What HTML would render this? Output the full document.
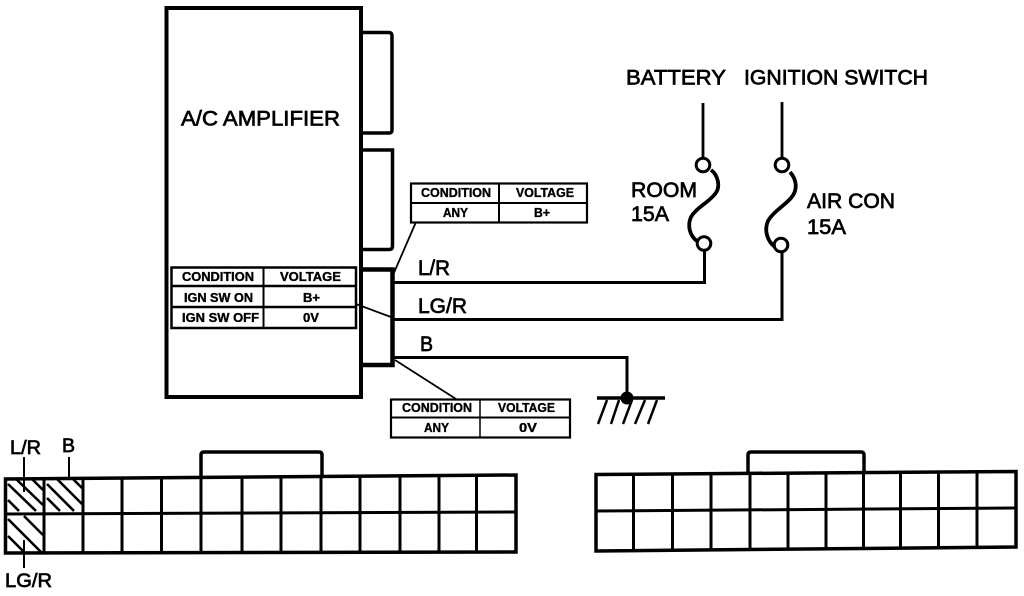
<!DOCTYPE html>
<html>
<head>
<meta charset="utf-8">
<style>
html,body{margin:0;padding:0;background:#fff;width:1024px;height:596px;overflow:hidden}
svg{display:block}
text{font-family:"Liberation Sans",sans-serif;fill:#000;stroke:#000}
.a{font-size:21px;stroke-width:.7px}
.s{font-size:12.5px;font-weight:bold;stroke-width:.35px}
path,line,rect,circle{stroke:#000;fill:none}
</style>
</head>
<body>
<svg width="1024" height="596" viewBox="0 0 1024 596" xmlns="http://www.w3.org/2000/svg">
<rect width="1024" height="596" style="fill:#fff;stroke:none"/>

<!-- Amplifier box -->
<path d="M166.500 397V8H361V397Z" stroke-width="4"/>
<path d="M361 32.500H389Q392 32.500 392 36V130Q392 133 389 133H361" stroke-width="3.500"/>
<path d="M361 150H392.500V246Q392.500 249.500 389 249.500H361" stroke-width="3.500"/>
<path d="M361 269.500H392.500V365H361" stroke-width="4.500"/>

<text class="a" x="181" y="125.500" textLength="159" lengthAdjust="spacingAndGlyphs">A/C AMPLIFIER</text>

<!-- Left table -->
<rect x="171.500" y="267.500" width="184.500" height="60.500" stroke-width="2.500" style="fill:#fff"/>
<line x1="171" y1="286" x2="356" y2="286" stroke-width="2.500"/>
<line x1="171" y1="307" x2="356" y2="307" stroke-width="2.500"/>
<line x1="263.500" y1="267" x2="263.500" y2="328" stroke-width="2"/>
<text class="s" x="182" y="281" textLength="72" lengthAdjust="spacingAndGlyphs">CONDITION</text>
<text class="s" x="280" y="281" textLength="61" lengthAdjust="spacingAndGlyphs">VOLTAGE</text>
<text class="s" x="184" y="302" textLength="69" lengthAdjust="spacingAndGlyphs">IGN SW ON</text>
<text class="s" x="303" y="302" textLength="17" lengthAdjust="spacingAndGlyphs">B+</text>
<text class="s" x="182" y="322" textLength="77" lengthAdjust="spacingAndGlyphs">IGN SW OFF</text>
<text class="s" x="303" y="322" textLength="16" lengthAdjust="spacingAndGlyphs">0V</text>

<!-- Top-right table -->
<rect x="411" y="183.500" width="176" height="39" stroke-width="2.200"/>
<line x1="411" y1="203" x2="587" y2="203" stroke-width="2"/>
<line x1="499" y1="183" x2="499" y2="223" stroke-width="2"/>
<text class="s" x="421" y="197" textLength="70" lengthAdjust="spacingAndGlyphs">CONDITION</text>
<text class="s" x="516" y="197" textLength="58" lengthAdjust="spacingAndGlyphs">VOLTAGE</text>
<text class="s" x="443" y="217" textLength="25" lengthAdjust="spacingAndGlyphs">ANY</text>
<text class="s" x="534" y="217" textLength="16" lengthAdjust="spacingAndGlyphs">B+</text>

<!-- Bottom table -->
<rect x="391" y="399.500" width="179" height="38" stroke-width="2.200"/>
<line x1="391" y1="417.500" x2="570" y2="417.500" stroke-width="2"/>
<line x1="480" y1="399" x2="480" y2="437" stroke-width="1.500"/>
<text class="s" x="402" y="412" textLength="70" lengthAdjust="spacingAndGlyphs">CONDITION</text>
<text class="s" x="498" y="412" textLength="57" lengthAdjust="spacingAndGlyphs">VOLTAGE</text>
<text class="s" x="424" y="432" textLength="25" lengthAdjust="spacingAndGlyphs">ANY</text>
<text class="s" x="519" y="432" textLength="18" lengthAdjust="spacingAndGlyphs">0V</text>

<!-- Leader lines -->
<line x1="356" y1="304" x2="391" y2="317" stroke-width="1.800"/>
<line x1="393" y1="275" x2="416" y2="222" stroke-width="1.800"/>
<line x1="395" y1="360" x2="456" y2="399" stroke-width="1.800"/>

<!-- Wires -->
<path d="M393 282.500H704.500V250" stroke-width="3"/>
<path d="M393 319.500H782V252" stroke-width="3"/>
<path d="M393 357.500H627V397" stroke-width="3"/>
<text class="a" x="418" y="275" textLength="32" lengthAdjust="spacingAndGlyphs">L/R</text>
<text class="a" x="418" y="313" textLength="49" lengthAdjust="spacingAndGlyphs">LG/R</text>
<text class="a" x="420" y="351" textLength="13" lengthAdjust="spacingAndGlyphs">B</text>

<!-- Ground -->
<line x1="597" y1="398" x2="665" y2="398" stroke-width="3.500"/>
<circle cx="627" cy="398" r="6" style="fill:#000" stroke-width="1"/>
<g stroke-width="2.500">
<line x1="607" y1="400" x2="598" y2="424"/>
<line x1="619" y1="400" x2="611" y2="424"/>
<line x1="632" y1="400" x2="623" y2="424"/>
<line x1="645" y1="400" x2="635" y2="424"/>
<line x1="657" y1="400" x2="648" y2="424"/>
</g>

<!-- Top labels -->
<text class="a" x="626" y="84.500" textLength="100" lengthAdjust="spacingAndGlyphs">BATTERY</text>
<text class="a" x="744" y="84.500" textLength="184" lengthAdjust="spacingAndGlyphs">IGNITION SWITCH</text>
<text class="a" x="631" y="197" textLength="66" lengthAdjust="spacingAndGlyphs">ROOM</text>
<text class="a" x="631" y="221" textLength="38" lengthAdjust="spacingAndGlyphs">15A</text>
<text class="a" x="807" y="208" textLength="88" lengthAdjust="spacingAndGlyphs">AIR CON</text>
<text class="a" x="807" y="234" textLength="39" lengthAdjust="spacingAndGlyphs">15A</text>

<!-- Fuses -->
<line x1="703" y1="103" x2="703" y2="158" stroke-width="2.800"/>
<circle cx="703" cy="165" r="6.800" stroke-width="3"/>
<circle cx="704" cy="243.500" r="6.800" stroke-width="3"/>
<path d="M711 170C718 175 721 187 715 194C708 203 696 208 691 217C687 226 690 236 697 241" stroke-width="3.800"/>
<line x1="782" y1="102" x2="782" y2="158" stroke-width="2.800"/>
<circle cx="782" cy="165" r="6.800" stroke-width="3"/>
<circle cx="781" cy="245" r="6.800" stroke-width="3"/>
<path d="M790 172C797 180 798 190 791 198C784 206 773 212 768 221C764 230 767 241 775 247" stroke-width="3.800"/>

<!-- Left connector -->
<path d="M201 477V455Q201 452 204 452H319Q322 452 322 455V476" stroke-width="3.500"/>
<g stroke-width="2.600">
<path d="M8 484L36 511M8 500L19 511M16 479L43 505M32 479L43 490"/>
<path d="M47 484L74 511M47 498L60 511M56 478L83 505M72 478L83 489"/>
<path d="M8 519L41 552M8 536L24 552M24 516L43 535"/>
</g>
<path d="M5.500 479L516 475V552L5.500 553Z" stroke-width="3.500"/>
<line x1="5" y1="514" x2="516" y2="512" stroke-width="3"/>
<g stroke-width="3">
<line x1="44" y1="478" x2="44" y2="553"/>
<line x1="83" y1="478" x2="83" y2="553"/>
<line x1="122" y1="478" x2="122" y2="553"/>
<line x1="161.500" y1="477" x2="161.500" y2="553"/>
<line x1="201" y1="477" x2="201" y2="553"/>
<line x1="242" y1="477" x2="242" y2="553"/>
<line x1="281" y1="476" x2="281" y2="552"/>
<line x1="321" y1="476" x2="321" y2="552"/>
<line x1="360" y1="476" x2="360" y2="552"/>
<line x1="400" y1="476" x2="400" y2="552"/>
<line x1="439" y1="475" x2="439" y2="552"/>
<line x1="476.500" y1="475" x2="476.500" y2="552"/>
</g>
<line x1="24" y1="457" x2="24" y2="492" stroke-width="2"/>
<line x1="69" y1="457" x2="69" y2="477" stroke-width="2"/>
<line x1="24" y1="540" x2="24" y2="568" stroke-width="2"/>
<text class="a" style="font-size:19px" x="10" y="454" textLength="31" lengthAdjust="spacingAndGlyphs">L/R</text>
<text class="a" style="font-size:19px" x="62" y="452" textLength="13" lengthAdjust="spacingAndGlyphs">B</text>
<text class="a" style="font-size:19px" x="5" y="587" textLength="47" lengthAdjust="spacingAndGlyphs">LG/R</text>

<!-- Right connector -->
<path d="M748 473V455Q748 452 751 452H861Q864 452 864 455V472" stroke-width="3.500"/>
<path d="M596 474.500L1016 471.500V547L596 551Z" stroke-width="3.500"/>
<line x1="596" y1="511" x2="1016" y2="508" stroke-width="3"/>
<g stroke-width="3">
<line x1="633.500" y1="474" x2="633.500" y2="551"/>
<line x1="672.500" y1="474" x2="672.500" y2="551"/>
<line x1="711" y1="474" x2="711" y2="550"/>
<line x1="750" y1="473" x2="750" y2="550"/>
<line x1="788" y1="473" x2="788" y2="550"/>
<line x1="826" y1="473" x2="826" y2="550"/>
<line x1="863.500" y1="472" x2="863.500" y2="549"/>
<line x1="900.500" y1="472" x2="900.500" y2="549"/>
<line x1="938.500" y1="472" x2="938.500" y2="548"/>
<line x1="977" y1="472" x2="977" y2="548"/>
</g>
</svg>
</body>
</html>
